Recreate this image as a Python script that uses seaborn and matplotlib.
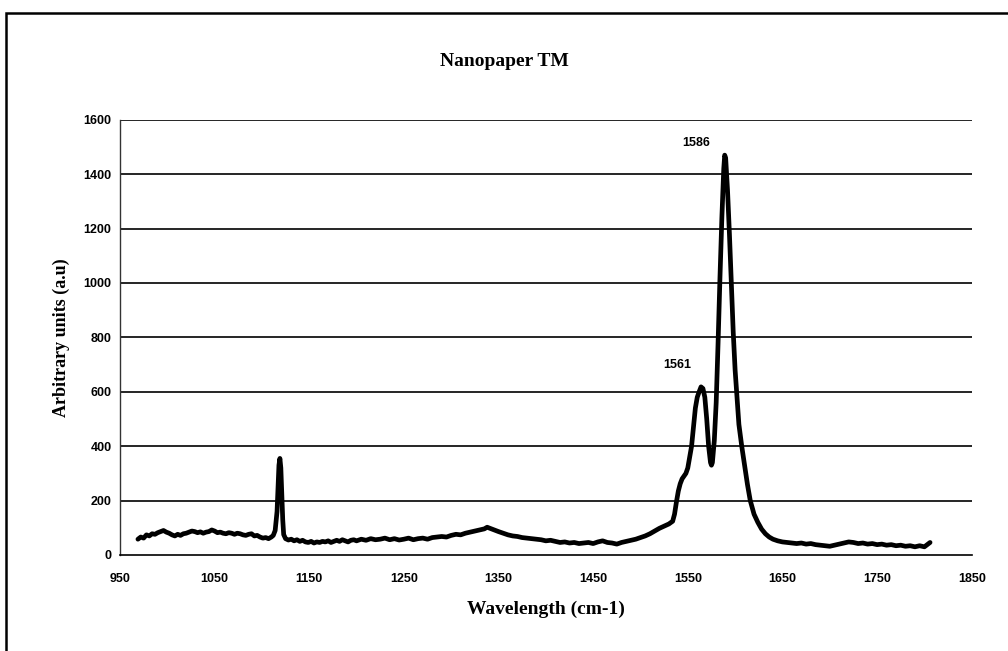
import matplotlib
matplotlib.use("Agg")
import matplotlib.pyplot as plt
import seaborn as sns
from matplotlib.patches import Rectangle

# spectrum (wavenumber, intensity)
wavenumber = [
    969, 972, 975, 978, 981, 984, 987, 990, 993, 996, 999, 1002, 1005, 1008,
    1011, 1014, 1017, 1020, 1023, 1026, 1029, 1032, 1035, 1038, 1041, 1044,
    1047, 1050, 1053, 1056, 1059, 1062, 1065, 1068, 1071, 1074, 1077, 1080,
    1083, 1086, 1089, 1092, 1095, 1098, 1101, 1104, 1107, 1110, 1112, 1114,
    1116, 1117, 1118, 1119, 1120, 1121, 1122, 1123, 1125, 1128, 1131, 1134,
    1137, 1140, 1143, 1146, 1149, 1152, 1155, 1158, 1161, 1164, 1167, 1170,
    1173, 1176, 1179, 1182, 1185, 1188, 1191, 1194, 1197, 1200, 1205, 1210,
    1215, 1220, 1225, 1230, 1235, 1240, 1245, 1250, 1255, 1260, 1265, 1270,
    1275, 1280, 1285, 1290, 1295, 1300, 1305, 1310, 1315, 1320, 1325, 1330,
    1335, 1338, 1341, 1344, 1347, 1350, 1355, 1360, 1365, 1370, 1375, 1380,
    1385, 1390, 1395, 1400, 1405, 1410, 1415, 1420, 1425, 1430, 1435, 1440,
    1445, 1450, 1455, 1460, 1465, 1470, 1475, 1480, 1485, 1490, 1495, 1500,
    1505, 1510, 1515, 1520, 1525, 1530, 1534, 1536, 1538, 1540, 1542, 1544,
    1546, 1548, 1550, 1552, 1554, 1556, 1558, 1560, 1562, 1564, 1566, 1568,
    1570, 1572, 1574, 1575, 1576, 1578, 1580, 1582, 1584, 1586, 1588, 1589,
    1590, 1592, 1594, 1596, 1598, 1600, 1602, 1604, 1607, 1610, 1613, 1616,
    1620, 1624, 1628, 1632, 1636, 1640, 1645, 1650, 1655, 1660, 1665, 1670,
    1675, 1680, 1685, 1690, 1695, 1700, 1705, 1710, 1715, 1720, 1725, 1730,
    1735, 1740, 1745, 1750, 1755, 1760, 1765, 1770, 1775, 1780, 1785, 1790,
    1795, 1800, 1803, 1806,
]
intensity = [
    58, 66, 62, 74, 70, 78, 76, 82, 86, 90, 84, 80, 74, 70,
    76, 72, 78, 80, 84, 88, 86, 82, 85, 80, 84, 86,
    92, 88, 82, 84, 80, 78, 82, 80, 76, 80, 78, 74,
    72, 76, 78, 70, 72, 66, 62, 64, 60, 66, 72, 90,
    160, 250, 330, 355, 320, 230, 130, 75, 60, 55, 58, 52,
    56, 50, 54, 48, 46, 50, 44, 48, 46, 50, 48, 52,
    46, 50, 54, 50, 56, 52, 48, 54, 56, 52, 58, 54,
    60, 56, 58, 62, 56, 60, 55, 58, 62, 56, 60, 62,
    58, 64, 66, 68, 66, 72, 76, 74, 80, 84, 88, 92,
    96, 102, 98, 94, 90, 86, 80, 74, 70, 68, 64, 62,
    60, 58, 56, 52, 54, 50, 46, 48, 44, 46, 42, 44,
    46, 42, 48, 52, 46, 44, 40, 46, 50, 54, 58, 64,
    70, 78, 88, 98, 106, 114, 124, 150, 195, 235, 262, 280,
    290, 300, 320, 360, 400, 470, 540, 580, 600, 618, 612, 580,
    500, 400, 340, 330, 340, 420, 560, 780, 1020, 1240, 1420, 1470,
    1460, 1340, 1180, 1000, 820, 680, 580, 480, 400, 330, 260, 200,
    150, 120, 95, 78, 66, 58, 52, 48, 46, 44, 42, 44,
    40, 42, 38, 36, 34, 32, 36, 40, 44, 48, 46, 42,
    44, 40, 42, 38, 40, 36, 38, 34, 36, 32, 34, 30,
    34, 30, 38, 46,
]

x_ticks = [950, 1050, 1150, 1250, 1350, 1450, 1550, 1650, 1750, 1850]
y_ticks = [0, 200, 400, 600, 800, 1000, 1200, 1400, 1600]
peak_labels = ["1561", "1586"]
peak_label_pos = [(1554, 700), (1574, 1515)]

sns.set_style("white")
plt.rcParams["font.family"] = ["Liberation Sans", "DejaVu Sans"]
plt.rcParams["text.color"] = "black"
plt.rcParams["axes.labelcolor"] = "black"
plt.rcParams["xtick.color"] = "black"
plt.rcParams["ytick.color"] = "black"

fig = plt.figure(figsize=(10.08, 6.51), dpi=100)
ax = fig.add_axes([0.119, 0.1475, 0.845, 0.6685])

sns.lineplot(x=wavenumber, y=intensity, color="black", linewidth=3.4, ax=ax)

ax.set_xlim(950, 1850)
ax.set_ylim(0, 1600)
ax.set_xticks(x_ticks)
ax.set_yticks(y_ticks)
ax.tick_params(axis="both", direction="out", length=4, width=1, labelsize=9)
for lab in ax.get_xticklabels() + ax.get_yticklabels():
    lab.set_fontweight("bold")
ax.tick_params(axis="x", pad=9)
ax.tick_params(axis="y", pad=2)

for v in y_ticks[1:]:
    ax.axhline(v, color="black", linewidth=1.2, zorder=0)

for s in ["top", "right"]:
    ax.spines[s].set_visible(False)
ax.spines["left"].set_color("#333333")
ax.spines["bottom"].set_color("black")
ax.spines["left"].set_linewidth(1)
ax.spines["bottom"].set_linewidth(1.2)

for txt, (px, py) in zip(peak_labels, peak_label_pos):
    ax.text(px, py, txt, ha="right", va="center", fontsize=9, fontweight="bold")

serif = ["Liberation Serif", "DejaVu Serif"]
fig.text(0.5, 0.905, "Nanopaper TM", ha="center", va="center",
         fontsize=14, fontweight="bold", family=serif)
ax.set_xlabel("Wavelength (cm-1)", fontsize=14, fontweight="bold",
              family=serif, labelpad=11)
ax.set_ylabel("Arbitrary units (a.u)", fontsize=13, fontweight="bold",
              family=serif, labelpad=10)

fig.patches.append(Rectangle((0.006, -0.1), 1.1, 1.08, transform=fig.transFigure,
                             fill=False, edgecolor="black", linewidth=1.8))

fig.savefig("out.png", dpi=100)
